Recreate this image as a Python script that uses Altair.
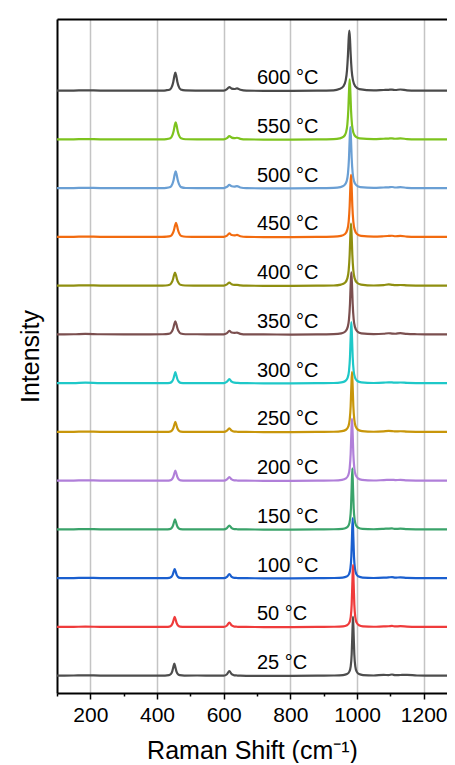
import altair as alt
import pandas as pd

# ---------------- data ----------------
temps = ["25 °C", "50 °C", "100 °C", "150 °C", "200 °C", "250 °C", "300 °C",
         "350 °C", "400 °C", "450 °C", "500 °C", "550 °C", "600 °C"]
colors = ["#4d4d4d", "#ef3b3b", "#1a5fcf", "#3aa36a", "#b07fd9", "#c8960a", "#1ec8c8",
          "#7b4f4f", "#8f8f10", "#f26b0f", "#6a9fd4", "#7dc31e", "#4a4a4a"]

# shared Raman-shift sample points (cm-1)
x_left = [100, 150, 185, 230, 300, 380, 415]
x_mid1 = [520, 575]
x_band3 = [600, 610, 617, 624, 632, 640, 650, 668]
x_mid2 = [720, 800, 880, 930]
x_tail = [1050, 1080, 1095, 1105, 1115, 1130, 1150, 1180, 1230, 1300]

# sample points around the ~455 cm-1 band, per spectrum
band2_x = [
    [424, 436, 442, 446, 449, 452, 455, 458, 462, 468, 482],
    [425, 437, 443, 447, 450, 453, 456, 459, 463, 469, 483],
    [425, 437, 443, 447, 450, 453, 456, 459, 463, 469, 483],
    [426, 438, 444, 448, 451, 454, 457, 460, 464, 470, 484],
    [427, 439, 445, 449, 452, 455, 458, 461, 465, 471, 485],
    [427, 439, 445, 449, 452, 455, 458, 461, 465, 471, 485],
    [427, 439, 445, 449, 452, 455, 458, 461, 465, 471, 485],
    [427, 439, 445, 449, 452, 455, 458, 461, 465, 471, 485],
    [426, 438, 444, 448, 451, 454, 457, 460, 464, 470, 484],
    [429, 441, 447, 451, 454, 457, 460, 463, 467, 473, 487],
    [428, 440, 446, 450, 453, 456, 459, 462, 466, 472, 486],
    [428, 440, 446, 450, 453, 456, 459, 462, 466, 472, 486],
    [427, 439, 445, 449, 452, 455, 458, 461, 465, 471, 485],
]
# sample points around the main ~980 cm-1 band, per spectrum
main_x = [
    [958, 970, 977, 981, 984, 986, 988, 990, 992, 995, 999, 1006, 1018],
    [958, 970, 977, 981, 984, 986, 988, 990, 992, 995, 999, 1006, 1018],
    [957, 969, 976, 980, 983, 985, 987, 989, 991, 994, 998, 1005, 1017],
    [956, 968, 975, 979, 982, 984, 986, 988, 990, 993, 997, 1004, 1016],
    [955, 967, 974, 978, 981, 983, 985, 987, 989, 992, 996, 1003, 1015],
    [955, 967, 974, 978, 981, 983, 985, 987, 989, 992, 996, 1003, 1015],
    [953, 965, 972, 976, 979, 981, 983, 985, 987, 990, 994, 1001, 1013],
    [953, 965, 972, 976, 979, 981, 983, 985, 987, 990, 994, 1001, 1013],
    [952, 964, 971, 975, 978, 980, 982, 984, 986, 989, 993, 1000, 1012],
    [952, 964, 971, 975, 978, 980, 982, 984, 986, 989, 993, 1000, 1012],
    [950, 962, 969, 973, 976, 978, 980, 982, 984, 987, 991, 998, 1010],
    [948, 960, 967, 971, 974, 976, 978, 980, 982, 985, 989, 996, 1008],
    [947, 959, 966, 970, 973, 975, 977, 979, 981, 984, 988, 995, 1007],
]

# intensities (a.u.), in order: left, 455 band, mid1, 617/640 band, mid2, main band, tail
y_25 = [0.3, 0.5, 0.7, 0.4, 0.3, 0.3, 0.4,
        0.4, 0.8, 2.1, 4.9, 8.9, 12.3, 8.9, 4.9, 2.1, 0.8, 0.4,
        0.5, 0.3,
        0.3, 1.8, 4.8, 1.8, 0.7, 0.5, 0.3, 0.2,
        0.2, 0.2, 0.3, 0.5,
        0.9, 1.9, 4.4, 9.4, 21.5, 41.0, 59.3, 41.0, 21.5, 9.4, 4.4, 1.9, 0.9,
        0.5, 1.1, 0.9, 1.5, 0.8, 1.0, 1.2, 0.5, 0.3, 0.3]
y_50 = [0.3, 0.4, 0.6, 0.4, 0.3, 0.3, 0.3,
        0.4, 0.7, 1.8, 4.1, 7.5, 10.3, 7.5, 4.1, 1.8, 0.7, 0.3,
        0.4, 0.3,
        0.3, 1.8, 4.6, 1.8, 0.7, 0.5, 0.3, 0.3,
        0.2, 0.2, 0.3, 0.5,
        0.9, 2.0, 4.6, 9.9, 22.6, 43.1, 62.3, 43.1, 22.6, 9.9, 4.6, 2.0, 0.9,
        0.5, 0.9, 1.0, 1.3, 0.8, 1.1, 0.7, 0.4, 0.3, 0.3]
y_100 = [0.3, 0.4, 0.7, 0.4, 0.3, 0.3, 0.3,
         0.3, 0.6, 1.6, 3.7, 6.8, 9.3, 6.8, 3.7, 1.6, 0.6, 0.3,
         0.4, 0.3,
         0.3, 1.7, 4.3, 1.7, 0.7, 0.5, 0.3, 0.3,
         0.2, 0.2, 0.3, 0.5,
         0.9, 1.9, 4.4, 9.6, 21.9, 41.7, 60.3, 41.7, 21.9, 9.6, 4.4, 1.9, 0.9,
         0.5, 0.8, 1.1, 1.4, 0.8, 1.2, 0.6, 0.4, 0.3, 0.3]
y_150 = [0.3, 0.4, 0.7, 0.4, 0.3, 0.3, 0.3,
         0.3, 0.7, 1.8, 4.1, 7.5, 10.3, 7.5, 4.1, 1.8, 0.6, 0.3,
         0.4, 0.3,
         0.3, 1.7, 4.2, 1.7, 0.7, 0.5, 0.3, 0.3,
         0.2, 0.2, 0.3, 0.5,
         0.9, 2.0, 4.5, 9.8, 22.3, 42.4, 61.3, 42.4, 22.3, 9.8, 4.5, 2.0, 0.9,
         0.5, 0.9, 1.2, 1.3, 0.8, 1.1, 0.6, 0.4, 0.3, 0.3]
y_200 = [0.3, 0.4, 0.7, 0.4, 0.3, 0.3, 0.3,
         0.4, 0.7, 1.8, 4.1, 7.5, 10.3, 7.5, 4.1, 1.8, 0.7, 0.3,
         0.4, 0.3,
         0.3, 1.6, 4.0, 1.6, 0.7, 0.5, 0.3, 0.3,
         0.2, 0.2, 0.3, 0.5,
         1.1, 2.6, 6.0, 12.7, 27.2, 47.0, 62.3, 47.0, 27.2, 12.7, 6.0, 2.6, 1.1,
         0.5, 0.9, 1.1, 1.2, 0.9, 1.1, 0.6, 0.4, 0.3, 0.3]
y_250 = [0.3, 0.4, 0.7, 0.4, 0.3, 0.3, 0.3,
         0.4, 0.7, 1.8, 4.1, 7.5, 10.3, 7.5, 4.1, 1.8, 0.7, 0.4,
         0.4, 0.3,
         0.3, 1.6, 4.0, 1.6, 0.7, 0.5, 0.3, 0.3,
         0.2, 0.2, 0.3, 0.5,
         1.1, 2.5, 5.8, 12.3, 26.3, 45.5, 60.3, 45.5, 26.3, 12.3, 5.8, 2.5, 1.1,
         0.5, 0.9, 1.3, 1.2, 0.8, 1.0, 0.6, 0.4, 0.3, 0.3]
y_300 = [0.3, 0.4, 0.8, 0.4, 0.3, 0.3, 0.4,
         0.4, 0.7, 2.0, 4.5, 8.2, 11.3, 8.2, 4.5, 2.0, 0.7, 0.4,
         0.4, 0.3,
         0.3, 1.8, 4.3, 1.8, 0.8, 0.6, 0.4, 0.3,
         0.2, 0.2, 0.3, 0.5,
         1.1, 2.5, 5.9, 12.5, 26.8, 46.3, 61.3, 46.3, 26.8, 12.5, 5.9, 2.5, 1.1,
         0.5, 0.8, 1.2, 1.1, 0.8, 1.0, 0.6, 0.4, 0.3, 0.3]
y_350 = [0.4, 0.5, 0.9, 0.5, 0.4, 0.4, 0.5,
         0.6, 1.2, 3.4, 6.8, 10.7, 13.3, 10.7, 6.8, 3.4, 1.2, 0.5,
         0.5, 0.4,
         0.4, 1.7, 3.8, 2.2, 1.8, 2.2, 0.9, 0.3,
         0.3, 0.2, 0.3, 0.6,
         1.4, 3.2, 7.6, 15.6, 31.3, 49.9, 62.3, 49.9, 31.3, 15.6, 7.6, 3.2, 1.4,
         0.6, 1.0, 1.5, 1.2, 1.0, 1.6, 0.8, 0.5, 0.3, 0.3]
y_400 = [0.3, 0.4, 0.7, 0.4, 0.3, 0.3, 0.4,
         0.5, 1.2, 3.4, 6.8, 10.7, 13.3, 10.7, 6.8, 3.4, 1.2, 0.5,
         0.4, 0.3,
         0.4, 1.6, 3.4, 1.8, 1.2, 1.2, 0.6, 0.3,
         0.2, 0.2, 0.3, 0.5,
         1.4, 3.2, 7.6, 15.6, 31.3, 49.9, 62.3, 49.9, 31.3, 15.6, 7.6, 3.2, 1.4,
         0.5, 0.9, 1.6, 1.2, 0.9, 1.0, 0.6, 0.4, 0.3, 0.3]
y_450 = [0.3, 0.4, 0.7, 0.4, 0.3, 0.3, 0.4,
         0.6, 1.3, 3.7, 7.3, 11.5, 14.3, 11.5, 7.3, 3.6, 1.3, 0.5,
         0.4, 0.3,
         0.4, 1.7, 3.8, 2.2, 1.8, 2.3, 1.0, 0.3,
         0.2, 0.2, 0.3, 0.6,
         1.4, 3.2, 7.6, 15.6, 31.3, 49.9, 62.3, 49.9, 31.3, 15.6, 7.6, 3.2, 1.4,
         0.6, 1.0, 1.3, 1.5, 1.0, 1.3, 0.7, 0.4, 0.3, 0.3]
y_500 = [0.3, 0.4, 0.7, 0.4, 0.3, 0.3, 0.4,
         0.6, 1.5, 4.3, 8.8, 13.9, 17.2, 13.8, 8.7, 4.3, 1.4, 0.5,
         0.4, 0.3,
         0.4, 1.7, 3.6, 2.2, 1.9, 2.4, 1.0, 0.3,
         0.2, 0.2, 0.3, 0.6,
         1.4, 3.2, 7.4, 15.3, 30.8, 49.1, 61.3, 49.1, 30.8, 15.3, 7.4, 3.2, 1.4,
         0.6, 1.0, 1.2, 1.5, 1.0, 1.4, 0.7, 0.4, 0.3, 0.3]
y_550 = [0.3, 0.4, 0.7, 0.4, 0.3, 0.3, 0.4,
         0.6, 1.5, 4.4, 8.8, 13.9, 17.3, 13.9, 8.8, 4.4, 1.5, 0.5,
         0.4, 0.3,
         0.4, 1.6, 3.6, 2.1, 1.6, 2.0, 0.9, 0.3,
         0.2, 0.2, 0.3, 0.6,
         1.35, 3.1, 7.3, 15.1, 30.3, 48.3, 60.3, 48.3, 30.3, 15.1, 7.3, 3.1, 1.35,
         0.6, 1.0, 1.2, 1.4, 1.0, 1.3, 0.7, 0.4, 0.3, 0.3]
y_600 = [0.3, 0.4, 0.7, 0.4, 0.3, 0.3, 0.4,
         0.7, 1.6, 4.6, 9.3, 14.7, 18.3, 14.7, 9.3, 4.6, 1.5, 0.6,
         0.4, 0.3,
         0.4, 1.8, 4.0, 2.4, 2.0, 2.6, 1.2, 0.3,
         0.2, 0.2, 0.3, 0.6,
         1.9, 4.6, 10.6, 20.6, 36.9, 52.0, 60.3, 52.0, 36.9, 20.6, 10.6, 4.6, 1.9,
         0.6, 1.0, 1.2, 1.4, 1.0, 1.5, 0.7, 0.4, 0.3, 0.3]
intensity = [y_25, y_50, y_100, y_150, y_200, y_250, y_300,
             y_350, y_400, y_450, y_500, y_550, y_600]

x_ticks = [100, 200, 300, 400, 500, 600, 700, 800, 900, 1000, 1100, 1200]

# ---------------- layout constants ----------------
OFFSET0 = 17.0      # vertical stacking offset of the first spectrum
STEP = 48.75        # stacking step between spectra
LABEL_X = 700       # x position of the temperature labels
LABEL_DY = 7        # label sits a little above its baseline
FONT = "Liberation Sans"

x_scale = alt.Scale(domain=[100, 1270], nice=False, zero=False)
y_scale = alt.Scale(domain=[0, 674], nice=False, zero=False)

major = "datum.value % 200 === 0"
bottom_axis = alt.Axis(
    values=x_ticks, format="d", labelOverlap=False, labelFlush=False,
    labelExpr=f"{major} ? datum.label : ''",
    tickSize={"condition": {"test": major, "value": 6}, "value": 3},
    tickColor="black", tickWidth=1.5,
    grid=True, gridColor="#c4c4c4", gridWidth=1.5,
    gridOpacity={"condition": {"test": major, "value": 1}, "value": 0},
    domainColor="black", domainWidth=2,
    labelFont=FONT, labelFontSize=21, labelColor="black", labelPadding=5,
    title="Raman Shift (cm⁻¹)", titleFont=FONT, titleFontSize=25,
    titleFontWeight="normal", titleColor="black", titlePadding=13,
)
top_axis = alt.Axis(orient="top", labels=False, ticks=False, grid=False,
                    domainColor="black", domainWidth=2, title=None)
y_axis = alt.Axis(labels=False, ticks=False, grid=False, domainColor="black",
                  domainWidth=2, title="Intensity", titleFont=FONT, titleFontSize=25,
                  titleFontWeight="normal", titleColor="black", titlePadding=14)

line_layers = []
for i in reversed(range(len(temps))):
    xs = x_left + band2_x[i] + x_mid1 + x_band3 + x_mid2 + main_x[i] + x_tail
    off = OFFSET0 + STEP * i
    df = pd.DataFrame({"x": xs, "y": [v + off for v in intensity[i]]})
    line_layers.append(
        alt.Chart(df).mark_line(color=colors[i], strokeWidth=2.2, interpolate="monotone",
                                clip=True, strokeJoin="round", strokeCap="round").encode(
            x=alt.X("x:Q", scale=x_scale, axis=bottom_axis),
            y=alt.Y("y:Q", scale=y_scale, axis=y_axis),
        )
    )

lab_df = pd.DataFrame({
    "x": [LABEL_X] * len(temps),
    "y": [OFFSET0 + STEP * i + LABEL_DY for i in range(len(temps))],
    "t": temps,
})
labels = alt.Chart(lab_df).mark_text(align="left", baseline="alphabetic", fontSize=20,
                                     font=FONT, color="black").encode(
    x=alt.X("x:Q", scale=x_scale, axis=top_axis),
    y=alt.Y("y:Q", scale=y_scale, axis=y_axis),
    text="t:N",
)

chart = alt.layer(alt.layer(*line_layers), labels).resolve_axis(x="independent").properties(
    width=390, height=674,
    autosize=alt.AutoSizeParams(type="none"),
    padding={"left": 49, "top": 11, "right": 0, "bottom": 70},
    background="white",
).configure_view(stroke=None).configure(font=FONT)

chart.save("out.html", embed_options={"renderer": "svg", "actions": False})
